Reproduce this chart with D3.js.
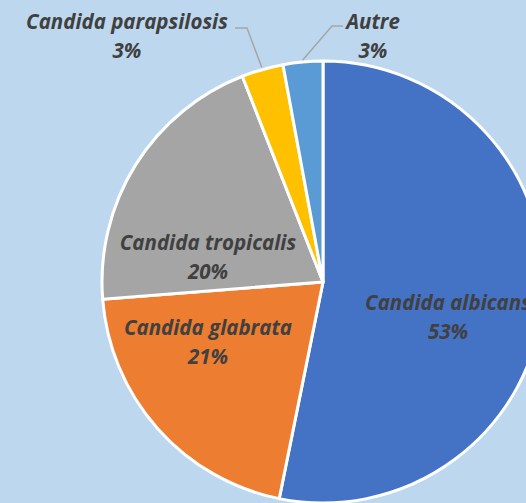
<!DOCTYPE html>
<html>
<head>
<meta charset="utf-8">
<script src="https://cdn.jsdelivr.net/npm/d3@7"></script>
<style>
  html, body { margin: 0; padding: 0; background: #BDD7EE; }
  svg { display: block; }
  .lbl { font-family: "Open Sans", Lato, sans-serif; font-weight: 700; font-style: italic; fill: #404040; font-size: 20.5px; }
</style>
</head>
<body>
<svg id="chart" width="526" height="503"></svg>
<script>
// Species share (percent), clockwise from 12 o'clock
const species = ['Candida albicans', 'Candida glabrata', 'Candida tropicalis', 'Candida parapsilosis', 'Autre'];
const shares = [53.2, 20.6, 20.3, 3.05, 2.9];
const pctLabels = ['53%', '21%', '20%', '3%', '3%'];
const colors = ['#4472C4', '#ED7D31', '#A5A5A5', '#FFC000', '#5B9BD5'];

const width = 526, height = 503;
const cx = 323, cy = 282, radius = 221;

// label anchors (first baseline, centred) and leader lines for the small slices
const labelLayout = [
  { x: 448, y: 310 },
  { x: 208, y: 335 },
  { x: 208, y: 250 },
  { x: 127, y: 29, leader: { start: [235, 28], elbow: [247, 28] } },
  { x: 373, y: 29, leader: { start: [343, 26], elbow: [332, 26] } }
];

const svg = d3.select('#chart');
svg.append('rect').attr('width', width).attr('height', height).attr('fill', '#BDD7EE');

const pie = d3.pie().sort(null).value(d => d.value);
const data = pie(species.map((name, i) => ({ name, value: shares[i], pct: pctLabels[i], color: colors[i] })));

const arc = d3.arc().innerRadius(0).outerRadius(radius);
const g = svg.append('g').attr('transform', `translate(${cx},${cy})`);

g.selectAll('path')
  .data(data)
  .join('path')
  .attr('d', arc)
  .attr('fill', d => d.data.color)
  .attr('stroke', '#fff')
  .attr('stroke-width', 3)
  .attr('stroke-linejoin', 'round');

// leader lines: from label elbow to the slice edge at mid angle
const edgeArc = d3.arc().innerRadius(radius + 2).outerRadius(radius + 2);
data.forEach((d, i) => {
  const lay = labelLayout[i];
  if (!lay.leader) return;
  const [ex, ey] = edgeArc.centroid(d);
  svg.append('polyline')
    .attr('points', [lay.leader.start, lay.leader.elbow, [cx + ex, cy + ey]].map(p => p.join(',')).join(' '))
    .attr('fill', 'none')
    .attr('stroke', '#A6A6A6')
    .attr('stroke-width', 1.5);
});

const labels = svg.append('g');
data.forEach((d, i) => {
  const lay = labelLayout[i];
  const t = labels.append('text')
    .attr('class', 'lbl')
    .attr('text-anchor', 'middle')
    .attr('x', lay.x)
    .attr('y', lay.y);
  t.append('tspan').attr('x', lay.x).text(d.data.name);
  t.append('tspan').attr('x', lay.x).attr('dy', 28.5).text(d.data.pct);
});
</script>
</body>
</html>
